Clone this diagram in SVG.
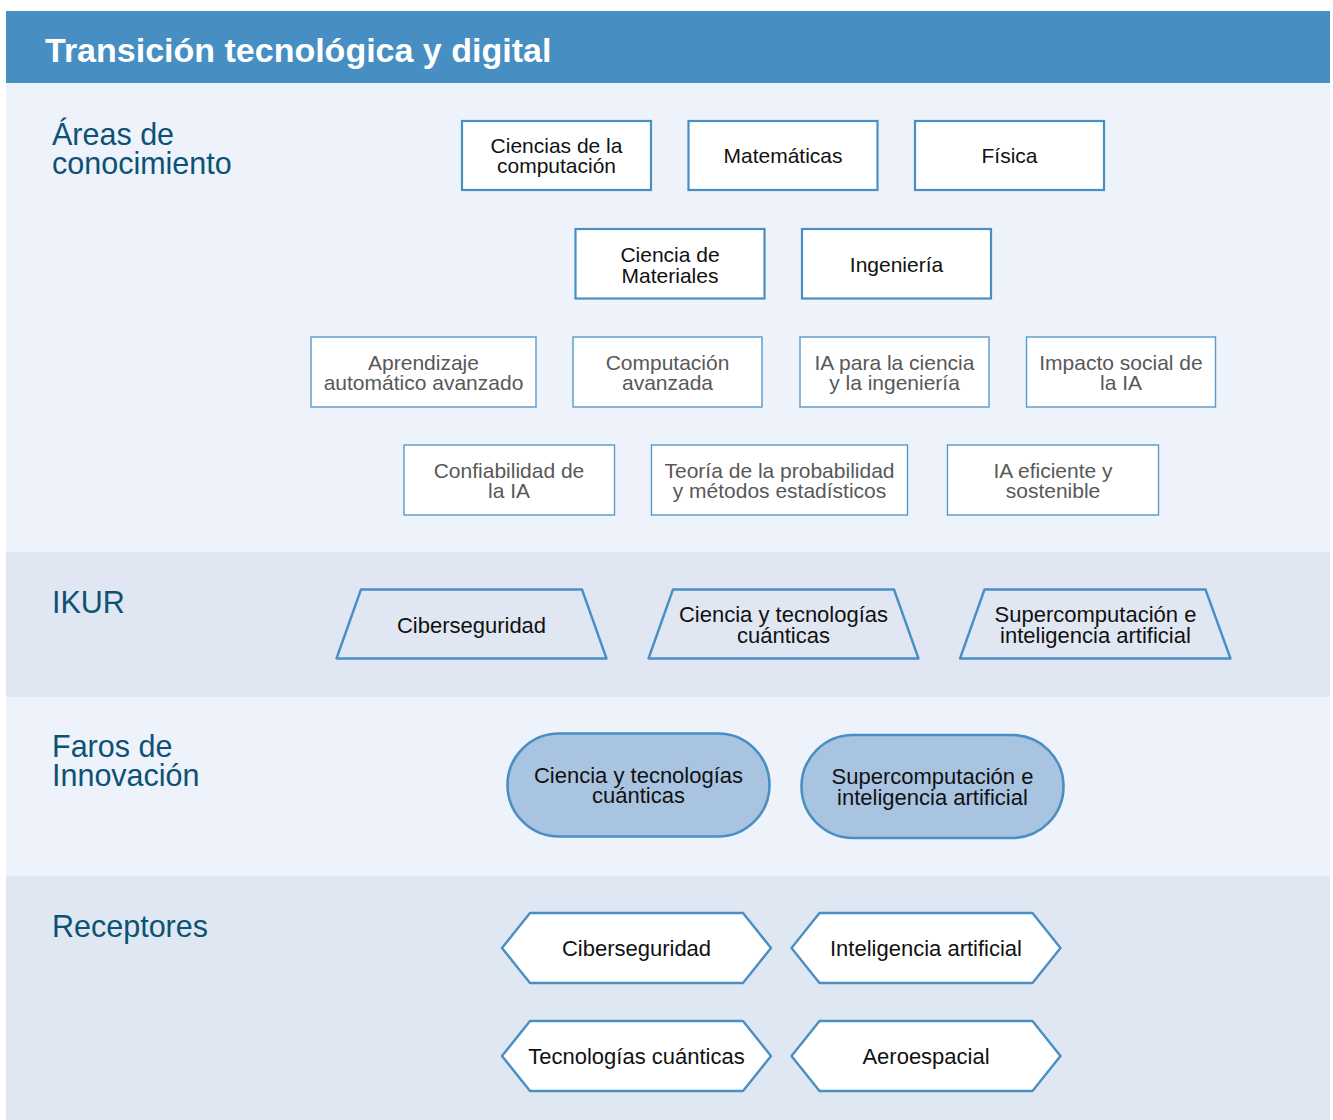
<svg xmlns="http://www.w3.org/2000/svg" width="1333" height="1120" viewBox="0 0 1333 1120">
  <style>
    .band1 { fill: #eef2fa; }
    .band2 { fill: #e0e7f2; }
    .band3 { fill: #eef3fb; }
    .band4 { fill: #dfe7f2; }
    .header { fill: #478fc2; }
    .title { font-family: "Liberation Sans", Arial, sans-serif; font-weight: bold; font-size: 34px; fill: #ffffff; }
    .rowlabel { font-family: "Liberation Sans", Arial, sans-serif; font-size: 30.5px; fill: #0d5274; }
    .box { fill: #ffffff; stroke: #4a8fc3; stroke-width: 2.2; }
    .subbox { fill: #ffffff; stroke: #5b9bcb; stroke-width: 1.4; }
    .trap { fill: #e0e7f2; stroke: #4a8fc3; stroke-width: 2.4; stroke-linejoin: round; }
    .pill { fill: #a9c4e1; stroke: #4a8fc3; stroke-width: 2.6; }
    .hex { fill: #ffffff; stroke: #4a8fc3; stroke-width: 2.4; stroke-linejoin: round; }
    .t { font-family: "Liberation Sans", Arial, sans-serif; font-size: 21px; fill: #111111; text-anchor: middle; }
    .tg { font-family: "Liberation Sans", Arial, sans-serif; font-size: 21px; fill: #585858; text-anchor: middle; }
    .tl { font-family: "Liberation Sans", Arial, sans-serif; font-size: 22px; fill: #111111; text-anchor: middle; }
  </style>

  <!-- background bands -->
  <g id="bands">
    <rect class="band1" x="6" y="83" width="1324" height="469"/>
    <rect class="band2" x="6" y="552" width="1324" height="145"/>
    <rect class="band3" x="6" y="697" width="1324" height="179"/>
    <rect class="band4" x="6" y="876" width="1324" height="244"/>
  </g>

  <!-- header bar -->
  <g id="header">
    <rect class="header" x="6" y="11" width="1324" height="72"/>
    <text class="title" x="45" y="62">Transición tecnológica y digital</text>
  </g>

  <!-- row labels -->
  <g id="labels">
    <text class="rowlabel" x="52" y="145">Áreas de</text>
    <text class="rowlabel" x="52" y="174">conocimiento</text>
    <text class="rowlabel" x="52" y="613">IKUR</text>
    <text class="rowlabel" x="52" y="757">Faros de</text>
    <text class="rowlabel" x="52" y="786">Innovación</text>
    <text class="rowlabel" x="52" y="937">Receptores</text>
  </g>

  <!-- knowledge areas: main -->
  <g id="area-computacion">
    <rect class="box" x="462" y="121" width="189" height="69"/>
    <text class="t" x="556.5" y="153">Ciencias de la</text>
    <text class="t" x="556.5" y="173">computación</text>
  </g>
  <g id="area-matematicas">
    <rect class="box" x="688.5" y="121" width="189" height="69"/>
    <text class="t" x="783" y="163">Matemáticas</text>
  </g>
  <g id="area-fisica">
    <rect class="box" x="915" y="121" width="189" height="69"/>
    <text class="t" x="1009.5" y="163">Física</text>
  </g>
  <g id="area-materiales">
    <rect class="box" x="575.5" y="229" width="189" height="69.5"/>
    <text class="t" x="670" y="262">Ciencia de</text>
    <text class="t" x="670" y="282.5">Materiales</text>
  </g>
  <g id="area-ingenieria">
    <rect class="box" x="802" y="229" width="189" height="69.5"/>
    <text class="t" x="896.5" y="271.5">Ingeniería</text>
  </g>

  <!-- knowledge areas: AI topics -->
  <g id="area-aprendizaje">
    <rect class="subbox" x="311" y="337" width="225" height="70"/>
    <text class="tg" x="423.5" y="369.5">Aprendizaje</text>
    <text class="tg" x="423.5" y="389.5">automático avanzado</text>
  </g>
  <g id="area-computacion-avanzada">
    <rect class="subbox" x="573" y="337" width="189" height="70"/>
    <text class="tg" x="667.5" y="369.5">Computación</text>
    <text class="tg" x="667.5" y="389.5">avanzada</text>
  </g>
  <g id="area-ia-ciencia">
    <rect class="subbox" x="800" y="337" width="189" height="70"/>
    <text class="tg" x="894.5" y="369.5">IA para la ciencia</text>
    <text class="tg" x="894.5" y="389.5">y la ingeniería</text>
  </g>
  <g id="area-impacto">
    <rect class="subbox" x="1026.5" y="337" width="189" height="70"/>
    <text class="tg" x="1121" y="369.5">Impacto social de</text>
    <text class="tg" x="1121" y="389.5">la IA</text>
  </g>
  <g id="area-confiabilidad">
    <rect class="subbox" x="404" y="445" width="210.5" height="70"/>
    <text class="tg" x="509" y="477.5">Confiabilidad de</text>
    <text class="tg" x="509" y="497.5">la IA</text>
  </g>
  <g id="area-probabilidad">
    <rect class="subbox" x="651.5" y="445" width="256" height="70"/>
    <text class="tg" x="779.5" y="477.5">Teoría de la probabilidad</text>
    <text class="tg" x="779.5" y="497.5">y métodos estadísticos</text>
  </g>
  <g id="area-ia-eficiente">
    <rect class="subbox" x="947.5" y="445" width="211" height="70"/>
    <text class="tg" x="1053" y="477.5">IA eficiente y</text>
    <text class="tg" x="1053" y="497.5">sostenible</text>
  </g>

  <!-- IKUR -->
  <g id="ikur-ciberseguridad">
    <polygon class="trap" points="361,589.5 582,589.5 606.5,658.5 336.5,658.5"/>
    <text class="tl" x="471.5" y="633">Ciberseguridad</text>
  </g>
  <g id="ikur-cuanticas">
    <polygon class="trap" points="673,589.5 894,589.5 918.5,658.5 648.5,658.5"/>
    <text class="tl" x="783.5" y="622">Ciencia y tecnologías</text>
    <text class="tl" x="783.5" y="642.5">cuánticas</text>
  </g>
  <g id="ikur-supercomputacion">
    <polygon class="trap" points="984.5,589.5 1205.5,589.5 1230.5,658.5 960,658.5"/>
    <text class="tl" x="1095.5" y="622">Supercomputación e</text>
    <text class="tl" x="1095.5" y="642.5">inteligencia artificial</text>
  </g>

  <!-- Faros de Innovación -->
  <g id="faro-cuanticas">
    <rect class="pill" x="507.5" y="733.5" width="262" height="103" rx="51.5"/>
    <text class="tl" x="638.5" y="782.5">Ciencia y tecnologías</text>
    <text class="tl" x="638.5" y="803">cuánticas</text>
  </g>
  <g id="faro-supercomputacion">
    <rect class="pill" x="801.5" y="735" width="262" height="103" rx="51.5"/>
    <text class="tl" x="932.5" y="784">Supercomputación e</text>
    <text class="tl" x="932.5" y="804.5">inteligencia artificial</text>
  </g>

  <!-- Receptores -->
  <g id="receptor-ciberseguridad">
    <polygon class="hex" points="502,948 530,913 743,913 771,948 743,983 530,983"/>
    <text class="tl" x="636.5" y="956">Ciberseguridad</text>
  </g>
  <g id="receptor-ia">
    <polygon class="hex" points="791.5,948 819.5,913 1032.5,913 1060.5,948 1032.5,983 819.5,983"/>
    <text class="tl" x="926" y="956">Inteligencia artificial</text>
  </g>
  <g id="receptor-cuanticas">
    <polygon class="hex" points="502,1056 530,1021 743,1021 771,1056 743,1091 530,1091"/>
    <text class="tl" x="636.5" y="1064">Tecnologías cuánticas</text>
  </g>
  <g id="receptor-aeroespacial">
    <polygon class="hex" points="791.5,1056 819.5,1021 1032.5,1021 1060.5,1056 1032.5,1091 819.5,1091"/>
    <text class="tl" x="926" y="1064">Aeroespacial</text>
  </g>
</svg>
